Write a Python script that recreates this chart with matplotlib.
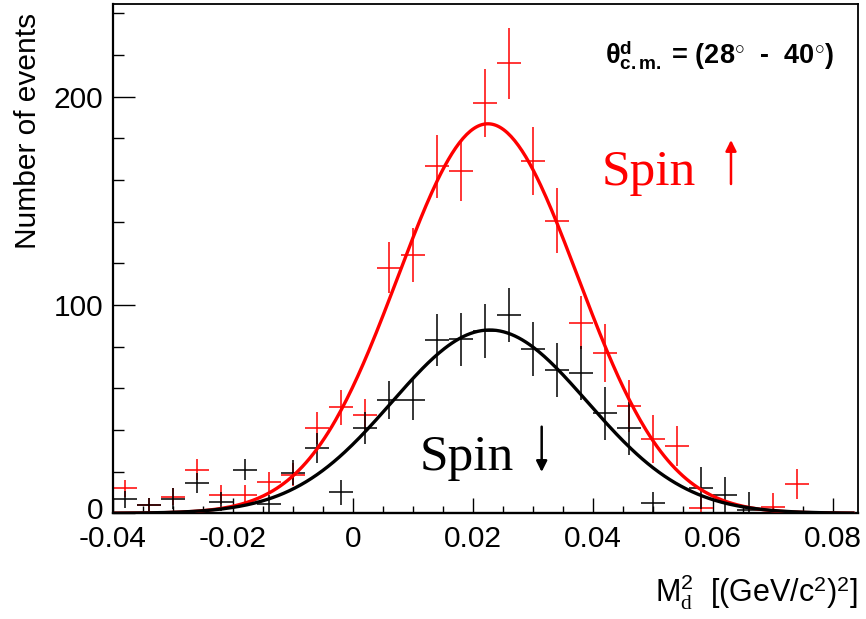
import numpy as np
import matplotlib
matplotlib.use("Agg")
import matplotlib.pyplot as plt
from matplotlib.ticker import MultipleLocator, FuncFormatter
from matplotlib.transforms import ScaledTranslation

plt.rcParams["font.family"] = ["Liberation Sans", "DejaVu Sans"]
plt.rcParams["axes.unicode_minus"] = False
plt.rcParams["mathtext.fontset"] = "custom"
plt.rcParams["mathtext.rm"] = "Liberation Serif"
plt.rcParams["mathtext.sf"] = "Liberation Sans"
plt.rcParams["mathtext.bf"] = "Liberation Sans:bold"
plt.rcParams["mathtext.it"] = "Liberation Serif:italic"

nan = np.nan

# bin centres of the M_d^2 histogram (bin width 0.004)
bin_centers = [-0.038, -0.034, -0.030, -0.026, -0.022, -0.018, -0.014, -0.010,
               -0.006, -0.002, 0.002, 0.006, 0.010, 0.014, 0.018, 0.022,
               0.026, 0.030, 0.034, 0.038, 0.042, 0.046, 0.050, 0.054,
               0.058, 0.062, 0.066, 0.070, 0.074, 0.078, 0.082]
bin_halfwidth = 0.002

# spin up (red)
up_counts = [12, 4, 8, 21, 9, 9, 15, 18.5, 41, 51, 47, 118, 124, 166.5, 164.5, 197,
             216, 169, 140.5, 91.5, 77, 51.5, 35.5, 32.5, 2.4, nan, nan, 3, 14, nan, nan]
up_errors = [4, 3.5, 4, 5, 4.5, 4.5, 5, 5.5, 7.6, 8.4, 8, 12.2, 12.8, 15, 14.4, 16.5,
             17, 16.3, 15.6, 12.8, 14, 12.4, 11.6, 9.6, 6, nan, nan, 6.5, 7.2, nan, nan]

# spin down (black)
down_counts = [6.7, 4, 7, 14.4, 5.6, 21, 4.5, 19.5, 31.2, 10, 40.8, 54.3, 54.5, 83.2, 83.5, 87.5,
               95, 79, 68.8, 67.5, 48, 40.8, 5, nan, 12.2, 8.8, 1.5, nan, nan, nan, nan]
down_errors = [4, 3.2, 5, 4.8, 4.5, 5.2, 4.5, 6, 7.2, 5.8, 7.6, 9.2, 9.6, 12.4, 12.6, 13,
               13, 13, 13, 13, 12.8, 12.8, 5, nan, 10, 8.4, 8.5, nan, nan, nan, nan]

# gaussian fit parameters: amplitude, mean, sigma
up_fit = (187.0, 0.0225, 0.0150)
down_fit = (88.0, 0.0228, 0.0163)

x_range = (-0.04, 0.0842)
y_range = (0, 244.5)


def gauss(x, amp, mean, sigma):
    return amp * np.exp(-0.5 * ((x - mean) / sigma) ** 2)


fig = plt.figure(figsize=(8.66, 6.19), dpi=100)
ax = fig.add_axes([0.1301, 0.1708, 0.861, 0.8227])

ax.errorbar(bin_centers, up_counts, xerr=bin_halfwidth, yerr=up_errors, fmt="none",
            ecolor="#ff0000", elinewidth=1.1, capsize=0, zorder=2)
ax.errorbar(bin_centers, down_counts, xerr=bin_halfwidth, yerr=down_errors, fmt="none",
            ecolor="black", elinewidth=1.1, capsize=0, zorder=2)

xf = np.linspace(-0.0395, 0.0833, 400)
ax.plot(xf, gauss(xf, *up_fit), color="#ff0000", lw=2.4, zorder=3)
ax.plot(xf, gauss(xf, *down_fit), color="black", lw=2.4, zorder=4)

ax.set_xlim(*x_range)
ax.set_ylim(*y_range)

ax.xaxis.set_major_locator(MultipleLocator(0.02))
ax.xaxis.set_minor_locator(MultipleLocator(0.005))
ax.yaxis.set_major_locator(MultipleLocator(100))
ax.yaxis.set_minor_locator(MultipleLocator(20))
ax.xaxis.set_major_formatter(FuncFormatter(lambda v, p: "0" if abs(v) < 1e-9 else f"{v:g}"))
ax.yaxis.set_major_formatter(FuncFormatter(lambda v, p: f"{v:g}"))

ax.tick_params(axis="both", which="both", direction="in", top=False, right=False,
               labelsize=21.5, width=1.0)
ax.tick_params(axis="x", which="major", length=10.8, pad=8.5)
ax.tick_params(axis="x", which="minor", length=5)
ax.tick_params(axis="y", which="major", length=16, pad=7)
ax.tick_params(axis="y", which="minor", length=8)
for s in ax.spines.values():
    s.set_linewidth(1.3)
ax.spines["bottom"].set_linewidth(1.7)
ax.spines["left"].set_linewidth(1.6)

fig.text(28 / 866, 1 - 131 / 619, "Number of events", rotation=90,
         ha="center", va="center", fontsize=21.5)
fig.text(858 / 866, 1 - 602 / 619,
         r"M$_{\mathrm{d}}^{\mathsf{2}}$  [(GeV/c$^{\mathsf{2}}$)$^{\mathsf{2}}$]",
         ha="right", va="baseline", fontsize=22)

ax.text(0.660, 0.884, "θ" + r"$^{\mathbf{d}}_{\mathbf{c.m.}}$" + " = (28" + r"$^{\circ}$"
        + "  -  40" + r"$^{\circ}$" + ")",
        transform=ax.transAxes, ha="left", va="baseline", fontsize=19.5, fontweight="bold")

ax.text(0.6556, 0.6446, "Spin", transform=ax.transAxes, ha="left", va="baseline",
        fontsize=37, family="Liberation Serif", color="#ff0000")
ax.annotate("", xy=((731 - 112.7) / 745.6, (513.3 - 140) / 509.3),
            xytext=((731 - 112.7) / 745.6, (513.3 - 184) / 509.3),
            xycoords="axes fraction", textcoords="axes fraction",
            arrowprops=dict(arrowstyle="-|>", color="#ff0000", lw=1.8,
                            mutation_scale=16, shrinkA=0, shrinkB=0))

ax.text(0.4112, 0.085, "Spin", transform=ax.transAxes, ha="left", va="baseline",
        fontsize=37, family="Liberation Serif", color="black")
ax.annotate("", xy=((541.7 - 112.7) / 745.6, (513.3 - 472) / 509.3),
            xytext=((541.7 - 112.7) / 745.6, (513.3 - 426.7) / 509.3),
            xycoords="axes fraction", textcoords="axes fraction",
            arrowprops=dict(arrowstyle="-|>", color="black", lw=1.8,
                            mutation_scale=16, shrinkA=0, shrinkB=0))

# nudge the y "0" label up a little so it clears the "-0.04" label
fig.canvas.draw()
for lab in ax.get_yticklabels():
    if lab.get_text() == "0":
        lab.set_transform(lab.get_transform() + ScaledTranslation(0, 4 / 72, fig.dpi_scale_trans))

fig.savefig("out.png", dpi=100)
